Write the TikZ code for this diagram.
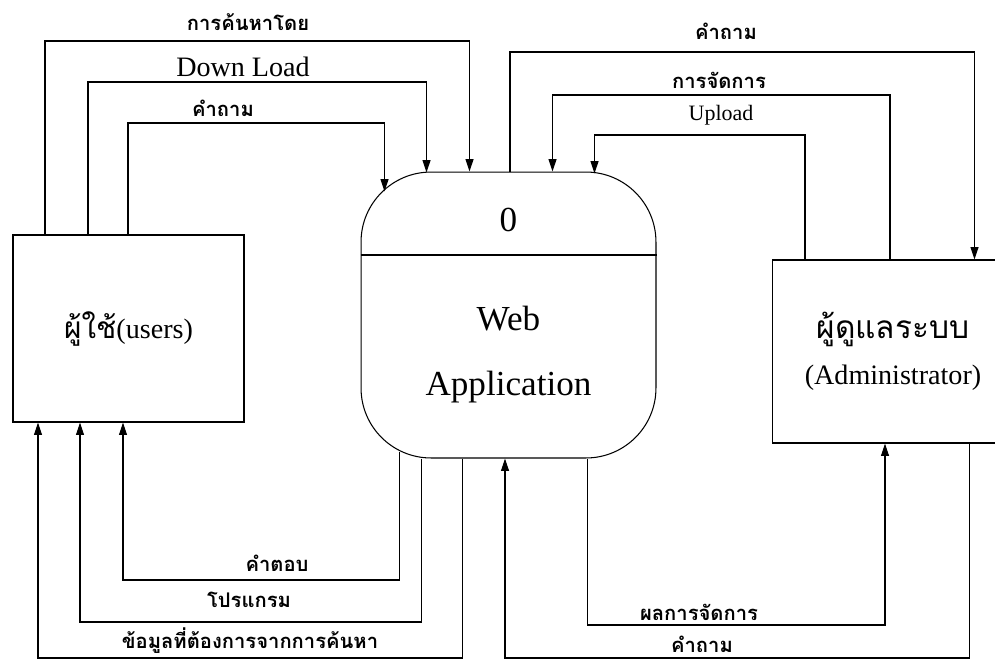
\documentclass[tikz,border=0pt]{standalone}
\usepackage{fontspec}
\setmainfont{Liberation Serif}
\newfontfamily\thaifont[Script=Thai]{Loma}
\usetikzlibrary{arrows.meta, calc}

\begin{document}
\begin{tikzpicture}[x=0.02cm, y=-0.02cm,
    entity/.style={draw, semithick, rectangle, inner sep=0pt, align=center},
    process/.style={draw, semithick, rectangle, rounded corners=1.4cm, inner sep=0pt,
      minimum width=5.9cm, minimum height=5.72cm},
    flow/.style={semithick, -{Triangle[length=7pt, width=4.5pt]}},
    thlbl/.style={font=\thaifont\bfseries\fontsize{11.5}{14}\selectfont, inner sep=1pt},
    enlbl/.style={inner sep=1pt}]

    \useasboundingbox (0,0) rectangle (995,670);

    % Users, process and administrator
    \node[entity, minimum width=4.62cm, minimum height=3.74cm, font=\fontsize{16}{19}\selectfont]
      (users) at (128.5,328.5) {{\thaifont\fontsize{17}{20}\selectfont ผู้ใช้}(users)};
    \node[process] (webapp) at (508.5,315) {};
    \coordinate (divy) at (0,255);
    \draw[semithick] (webapp.west |- divy) -- (webapp.east |- divy);
    \node[font=\fontsize{20}{24}\selectfont] (procno) at ($(webapp.north)+(0,48)$) {0};
    \node[align=center, font=\fontsize{20}{37}\selectfont] (procname) at ($(webapp.center)+(0,40)$) {Web\\Application};
    \node[entity, minimum width=4.84cm, minimum height=3.66cm, font=\fontsize{16}{26}\selectfont]
      (admin) at (893,351.5) {{\thaifont\fontsize{18}{26}\selectfont ผู้ดูแลระบบ}\\(Administrator)};

    % Flows from users to the process
    \coordinate (q1) at (45,41);
    \coordinate (q2) at (88,82);
    \coordinate (q3) at (128,123);
    \draw[flow] (users.north -| q1) -- (q1) -| ($(webapp.north west)+(109,0)$);
    \draw[flow] (users.north -| q2) -- (q2) -| ($(webapp.north west)+(66,1)$);
    \draw[flow] (users.north -| q3) -- (q3) -| ($(webapp.north west)+(24,20)$);
    \node[thlbl] (l1) at (248,22) {การค้นหาโดย};
    \node[enlbl, font=\fontsize{16}{19}\selectfont] (l2) at (243,67) {Down Load};
    \node[thlbl] (l3) at (223,108) {คำถาม};

    % Flows between the process and administrator (top)
    \coordinate (q4) at (510,52);
    \coordinate (q5) at (890,95);
    \coordinate (q6) at (805,135);
    \draw[flow] (webapp.north -| q4) -- (q4) -| ($(admin.north west)+(203,0)$);
    \draw[flow] (admin.north -| q5) -- (q5) -| ($(webapp.north west)+(192,0)$);
    \draw[flow] (admin.north -| q6) -- (q6) -| ($(webapp.north west)+(234,2)$);
    \node[thlbl] (l4) at (726,31) {คำถาม};
    \node[thlbl] (l5) at (719,80) {การจัดการ};
    \node[enlbl, font=\fontsize{12.5}{15}\selectfont] (l6) at (721,115) {Upload};

    % Flows from the process to users
    \coordinate (q7) at (123,580);
    \coordinate (q8) at (80,622);
    \coordinate (q9) at (38,658);
    \draw[flow] ($(webapp.south west)+(39,-7)$) |- (q7) -- (users.south -| q7);
    \draw[flow] ($(webapp.south west)+(61,0)$) |- (q8) -- (users.south -| q8);
    \draw[flow] ($(webapp.south west)+(102,0)$) |- (q9) -- (users.south -| q9);
    \node[thlbl] (l7) at (277,563) {คำตอบ};
    \node[thlbl] (l8) at (249,600) {โปรแกรม};
    \node[thlbl] (l9) at (250,641) {ข้อมูลที่ต้องการจากการค้นหา};

    % Flows between the process and administrator (bottom)
    \coordinate (q10) at (885,625);
    \coordinate (q11) at (505,658);
    \draw[flow] ($(webapp.south west)+(227,0)$) |- (q10) -- (admin.south -| q10);
    \draw[flow] ($(admin.south west)+(198,0)$) |- (q11) -- (webapp.south -| q11);
    \node[thlbl] (l10) at (699,612) {ผลการจัดการ};
    \node[thlbl] (l11) at (702,644) {คำถาม};
\end{tikzpicture}
\end{document}
